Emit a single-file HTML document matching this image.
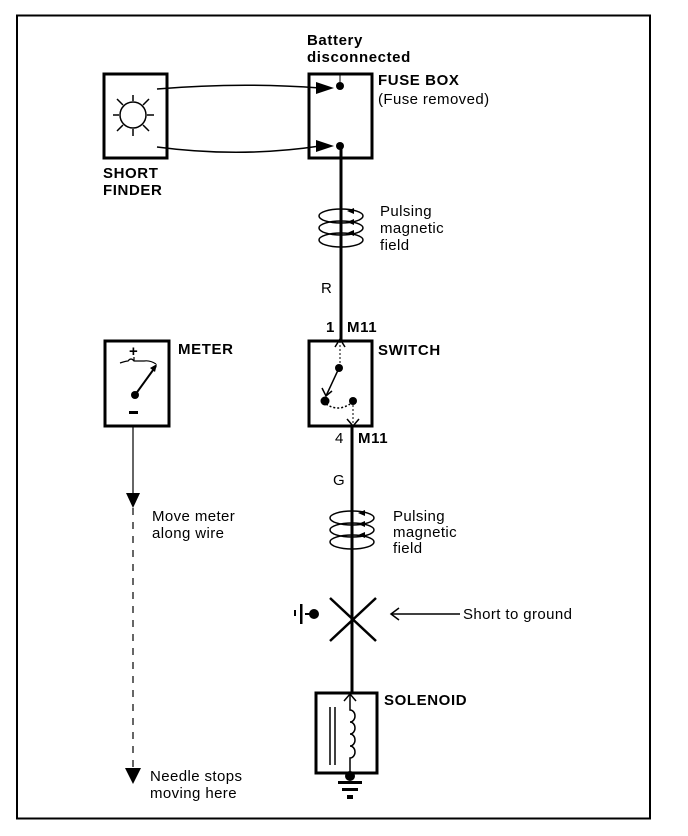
<!DOCTYPE html>
<html><head><meta charset="utf-8"><style>
html,body{margin:0;padding:0;background:#fff;}
svg{display:block;}
text{font-family:"Liberation Sans",Arial,sans-serif;font-size:15px;fill:#000;letter-spacing:0.4px;}
.b{font-weight:bold;letter-spacing:0.6px;}
</style></head><body>
<svg width="688" height="836" viewBox="0 0 688 836" xmlns="http://www.w3.org/2000/svg">
<rect x="17" y="15.5" width="633" height="803" fill="none" stroke="#000" stroke-width="2"/>

<!-- short finder -->
<rect x="104" y="74" width="63" height="84" fill="none" stroke="#000" stroke-width="3"/>
<circle cx="133" cy="115" r="13" fill="none" stroke="#000" stroke-width="1.5"/>
<g stroke="#000" stroke-width="1.5">
<line x1="133" y1="95" x2="133" y2="101"/><line x1="133" y1="129" x2="133" y2="136"/>
<line x1="113" y1="115" x2="119" y2="115"/><line x1="147" y1="115" x2="154" y2="115"/>
<line x1="117" y1="99" x2="123" y2="105"/><line x1="149" y1="99" x2="143" y2="105"/>
<line x1="117" y1="131" x2="123" y2="125"/><line x1="149" y1="131" x2="143" y2="125"/>
</g>
<text x="103" y="178" class="b">SHORT</text>
<text x="103" y="195" class="b">FINDER</text>
<path d="M157,89 Q240,82 320,88" fill="none" stroke="#000" stroke-width="1.5"/>
<path d="M157,147 Q240,158 320,146" fill="none" stroke="#000" stroke-width="1.5"/>
<path d="M316,82 L334,88 L316,94 z"/>
<path d="M316,140 L334,146 L316,152 z"/>

<!-- fuse box -->
<text x="307" y="45" class="b">Battery</text>
<text x="307" y="62" class="b">disconnected</text>
<rect x="309" y="74" width="63" height="84" fill="none" stroke="#000" stroke-width="3"/>
<circle cx="340" cy="86" r="4"/>
<circle cx="340" cy="146" r="4"/>
<line x1="340" y1="74" x2="340" y2="86" stroke="#000" stroke-width="1"/>
<text x="378" y="85" class="b">FUSE BOX</text>
<text x="378" y="104">(Fuse removed)</text>

<line x1="341" y1="146" x2="341" y2="341" stroke="#000" stroke-width="3"/>
<g fill="none" stroke="#000" stroke-width="1.5">
<ellipse cx="341" cy="216" rx="22" ry="7"/>
<ellipse cx="341" cy="228" rx="22" ry="7"/>
<ellipse cx="341" cy="240" rx="22" ry="7"/>
</g>
<g><path d="M347,211 l7,-3 v6 z"/><path d="M347,222 l7,-3 v6 z"/><path d="M347,233 l7,-3 v6 z"/></g>
<text x="380" y="216">Pulsing</text>
<text x="380" y="233">magnetic</text>
<text x="380" y="250">field</text>
<text x="321" y="293">R</text>

<!-- switch -->
<text x="326" y="332" class="b">1</text>
<text x="347" y="332" class="b">M11</text>
<rect x="309" y="341" width="63" height="85" fill="none" stroke="#000" stroke-width="3"/>
<path d="M335,347 L340,339 L345,347" fill="none" stroke="#000" stroke-width="1.5"/>
<line x1="340" y1="341" x2="340" y2="368" stroke="#000" stroke-width="1" stroke-dasharray="2,2"/>
<circle cx="339" cy="368" r="4"/>
<circle cx="325" cy="401" r="4.5"/>
<circle cx="353" cy="401" r="4"/>
<line x1="339" y1="368" x2="326" y2="396" stroke="#000" stroke-width="1.5"/>
<path d="M322,388 L326,396 L332,391" fill="none" stroke="#000" stroke-width="1.5"/>
<path d="M326,404 Q338,412 350,404" fill="none" stroke="#000" stroke-width="1.5" stroke-dasharray="2,2"/>
<line x1="353" y1="401" x2="353" y2="426" stroke="#000" stroke-width="1" stroke-dasharray="2,2"/>
<path d="M347,419 L353,426 L359,419" fill="none" stroke="#000" stroke-width="1.5"/>
<text x="378" y="355" class="b">SWITCH</text>
<text x="335" y="443">4</text>
<text x="358" y="443" class="b">M11</text>

<line x1="352" y1="426" x2="352" y2="693" stroke="#000" stroke-width="3"/>
<text x="333" y="485">G</text>
<g fill="none" stroke="#000" stroke-width="1.5">
<ellipse cx="352" cy="518" rx="22" ry="7"/>
<ellipse cx="352" cy="530" rx="22" ry="7"/>
<ellipse cx="352" cy="542" rx="22" ry="7"/>
</g>
<g><path d="M358,513 l7,-3 v6 z"/><path d="M358,524 l7,-3 v6 z"/><path d="M358,535 l7,-3 v6 z"/></g>
<text x="393" y="521">Pulsing</text>
<text x="393" y="537">magnetic</text>
<text x="393" y="553">field</text>

<!-- short -->
<line x1="330" y1="598" x2="376" y2="641" stroke="#000" stroke-width="2.5"/>
<line x1="376" y1="598" x2="330" y2="641" stroke="#000" stroke-width="2.5"/>
<rect x="294" y="610" width="2" height="6"/>
<rect x="300" y="604" width="2.5" height="20"/>
<circle cx="314" cy="614" r="5"/>
<line x1="305" y1="614" x2="314" y2="614" stroke="#000" stroke-width="2"/>
<line x1="392" y1="614" x2="460" y2="614" stroke="#000" stroke-width="1.5"/>
<path d="M399,608 L391,614 L399,620" fill="none" stroke="#000" stroke-width="1.5"/>
<text x="463" y="619">Short to ground</text>

<!-- solenoid -->
<rect x="316" y="693" width="61" height="80" fill="none" stroke="#000" stroke-width="3"/>
<path d="M344,701 L350,694 L356,701" fill="none" stroke="#000" stroke-width="1.5"/>
<line x1="330" y1="707" x2="330" y2="765" stroke="#000" stroke-width="1.5"/>
<line x1="335" y1="707" x2="335" y2="765" stroke="#000" stroke-width="1.5"/>
<path d="M350,695 V710 a5,6 0 0 1 0,12 a5,6 0 0 1 0,12 a5,6 0 0 1 0,12 a5,6 0 0 1 0,12 V775" fill="none" stroke="#000" stroke-width="1.5"/>
<circle cx="350" cy="776" r="5"/>
<rect x="338" y="781" width="24" height="3"/>
<rect x="342" y="788" width="16" height="3"/>
<rect x="347" y="795" width="6" height="4"/>
<text x="384" y="705" class="b">SOLENOID</text>

<!-- meter -->
<rect x="105" y="341" width="64" height="85" fill="none" stroke="#000" stroke-width="3"/>
<text x="178" y="354" class="b">METER</text>
<text x="129" y="356" class="b" style="font-size:15px">+</text>
<rect x="129" y="411" width="9" height="3"/>
<path d="M120,363 Q126,361 128,361 Q131,357 134,361 L144,361 Q150,360 156,364" fill="none" stroke="#000" stroke-width="1.2"/>
<line x1="134" y1="357" x2="134" y2="361" stroke="#000" stroke-width="1.2"/>
<line x1="135" y1="395" x2="156" y2="366" stroke="#000" stroke-width="2"/>
<path d="M150,368 L157,364 L155,372 z"/>
<circle cx="135" cy="395" r="4"/>
<line x1="133" y1="426" x2="133" y2="495" stroke="#000" stroke-width="1.2"/>
<path d="M126,493 L140,493 L133,508 z"/>
<line x1="133" y1="508" x2="133" y2="768" stroke="#000" stroke-width="1.2" stroke-dasharray="7,7"/>
<path d="M125,768 L141,768 L133,784 z"/>
<text x="152" y="521">Move meter</text>
<text x="152" y="538">along wire</text>
<text x="150" y="781">Needle stops</text>
<text x="150" y="798">moving here</text>
</svg>
</body></html>
